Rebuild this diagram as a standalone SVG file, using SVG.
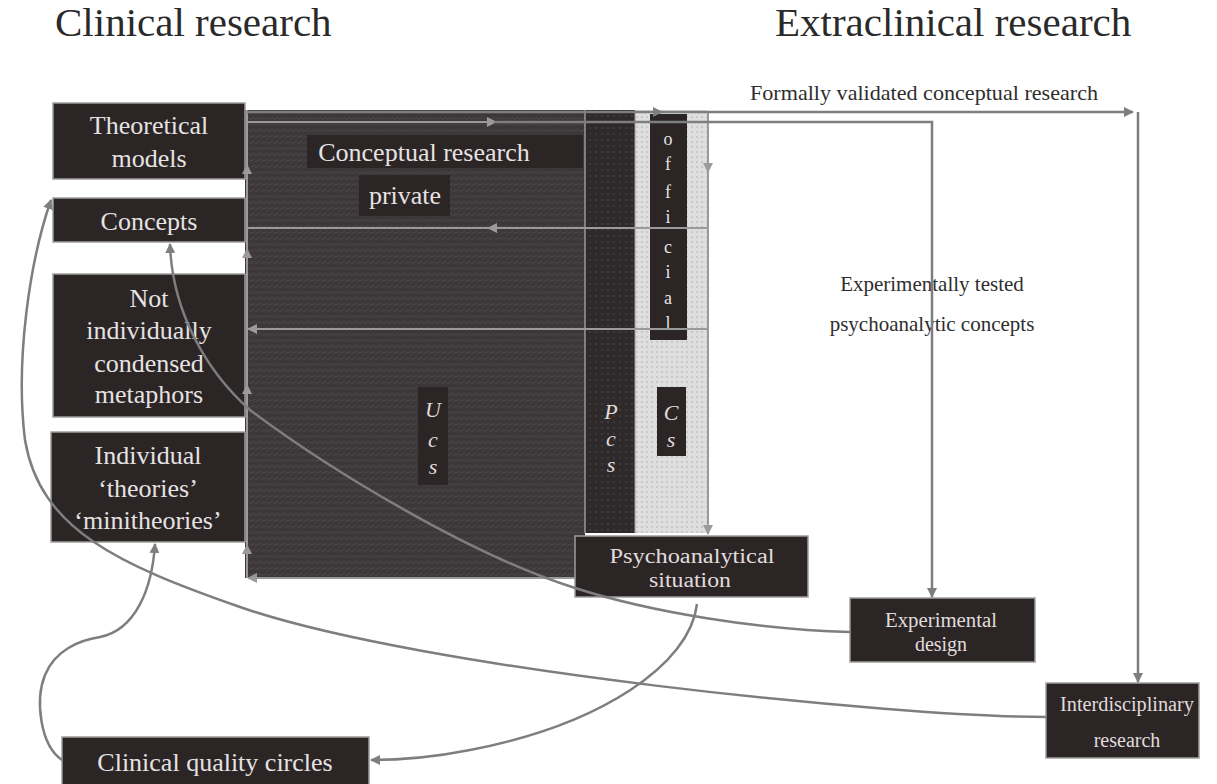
<svg xmlns="http://www.w3.org/2000/svg" width="1217" height="784" viewBox="0 0 1217 784">
<style>
.title{font-family:"Liberation Serif",serif;font-size:41px;fill:#2a2a2a}
.lbl{font-family:"Liberation Serif",serif;font-size:21px;fill:#2e2e2e}
.box{fill:#2b2526;stroke:#a09c9c;stroke-width:1.5}
.bt{font-family:"Liberation Serif",serif;font-size:26px;fill:#e6e2e2;text-anchor:middle}
.st{font-family:"Liberation Serif",serif;font-size:20px;fill:#e0dcdc;text-anchor:middle}
.it{font-family:"Liberation Serif",serif;font-size:22px;font-style:italic;fill:#e0dcdc;text-anchor:middle}
.of{font-family:"Liberation Serif",serif;font-size:18px;fill:#e6e2e2;text-anchor:middle}
.c{fill:none;stroke:#7e7e7e;stroke-width:2.5}
.ci{fill:none;stroke:#9a9a9a;stroke-width:2}
</style>
<defs>
<pattern id="ucs" width="6" height="6" patternUnits="userSpaceOnUse">
<rect width="6" height="6" fill="#3c3738"/>
<path d="M0,5 L3,3 M3,6 L6,4" stroke="#4e494a" stroke-width="1"/>
</pattern>
<pattern id="pcs" width="6" height="6" patternUnits="userSpaceOnUse">
<rect width="6" height="6" fill="#2e2a2b"/>
<circle cx="2" cy="2" r="0.8" fill="#524e4f"/>
</pattern>
<pattern id="cs" width="5" height="5" patternUnits="userSpaceOnUse">
<rect width="5" height="5" fill="#dedede"/>
<circle cx="2" cy="2" r="0.9" fill="#bdbdbd"/>
</pattern>
<marker id="ah" viewBox="0 0 10 10" refX="9" refY="5" markerWidth="4" markerHeight="4" orient="auto" markerUnits="strokeWidth">
<path d="M0,0 L10,5 L0,10 Z" fill="#7e7e7e"/>
</marker>
<marker id="ahi" viewBox="0 0 10 10" refX="9" refY="5" markerWidth="5" markerHeight="5" orient="auto" markerUnits="strokeWidth">
<path d="M0,0 L10,5 L0,10 Z" fill="#9a9a9a"/>
</marker>
</defs>
<rect width="1217" height="784" fill="#ffffff"/>

<text class="title" x="55" y="36">Clinical research</text>
<text class="title" x="775" y="36">Extraclinical research</text>

<g id="central-block">
<rect x="245" y="110" width="340" height="468" fill="url(#ucs)"/>
<rect x="585" y="110" width="50" height="423" fill="url(#pcs)"/>
<rect x="635" y="110" width="72" height="423" fill="url(#cs)"/>
<line x1="585" y1="110" x2="585" y2="533" stroke="#9a9a9a" stroke-width="1.5"/>
<line x1="635" y1="110" x2="635" y2="533" stroke="#9a9a9a" stroke-width="1"/>
<rect x="307" y="135" width="276" height="33" fill="#2b2526"/>
<text class="bt" x="424" y="161" font-size="25">Conceptual research</text>
<rect x="359" y="175" width="91" height="41" fill="#2b2526"/>
<text class="bt" x="405" y="204" font-size="23">private</text>
<rect x="418" y="387" width="30" height="98" fill="#2b2526"/>
<text class="it" x="433" y="417">U</text>
<text class="it" x="433" y="447">c</text>
<text class="it" x="433" y="474">s</text>
<text class="it" x="611" y="419">P</text>
<text class="it" x="611" y="446">c</text>
<text class="it" x="611" y="472">s</text>
<rect x="657" y="387" width="29" height="69" fill="#2b2526"/>
<text class="it" x="671" y="420">C</text>
<text class="it" x="671" y="447">s</text>
<rect x="650" y="114" width="37" height="226" fill="#2b2526"/>
<text class="of" x="668" y="145">o</text>
<text class="of" x="668" y="170">f</text>
<text class="of" x="668" y="198">f</text>
<text class="of" x="668" y="223">i</text>
<text class="of" x="668" y="253">c</text>
<text class="of" x="668" y="278">i</text>
<text class="of" x="668" y="304">a</text>
<text class="of" x="668" y="329">l</text>
</g>

<g id="theoretical-models">
<rect class="box" x="53" y="103" width="192" height="76"/>
<text class="bt" x="149" y="134">Theoretical</text>
<text class="bt" x="149" y="167">models</text>
</g>
<g id="concepts">
<rect class="box" x="53" y="198" width="192" height="44"/>
<text class="bt" x="149" y="230">Concepts</text>
</g>
<g id="metaphors">
<rect class="box" x="53" y="274" width="192" height="143"/>
<text class="bt" x="149" y="307">Not</text>
<text class="bt" x="149" y="339">individually</text>
<text class="bt" x="149" y="372">condensed</text>
<text class="bt" x="149" y="403">metaphors</text>
</g>
<g id="minitheories">
<rect class="box" x="51" y="432" width="194" height="110"/>
<text class="bt" x="148" y="464">Individual</text>
<text class="bt" x="148" y="497">‘theories’</text>
<text class="bt" x="148" y="529">‘minitheories’</text>
</g>
<g id="clinical-quality-circles">
<rect class="box" x="62" y="737" width="307" height="50"/>
<text class="bt" x="215" y="771" font-size="27">Clinical quality circles</text>
</g>
<g id="psychoanalytical-situation">
<rect class="box" x="575" y="536" width="233" height="61"/>
<text class="st" x="692" y="563" textLength="165" lengthAdjust="spacingAndGlyphs">Psychoanalytical</text>
<text class="st" x="690" y="587" textLength="82" lengthAdjust="spacingAndGlyphs">situation</text>
</g>
<g id="experimental-design">
<rect class="box" x="850" y="598" width="185" height="64"/>
<text class="st" x="941" y="627" textLength="112" lengthAdjust="spacingAndGlyphs">Experimental</text>
<text class="st" x="941" y="651">design</text>
</g>
<g id="interdisciplinary-research">
<rect class="box" x="1046" y="683" width="153" height="75"/>
<text class="st" x="1127" y="711" textLength="134" lengthAdjust="spacingAndGlyphs">Interdisciplinary</text>
<text class="st" x="1127" y="747">research</text>
</g>

<g id="labels">
<text class="lbl" x="750" y="100" textLength="348" lengthAdjust="spacingAndGlyphs">Formally validated conceptual research</text>
<text class="lbl" x="932" y="291" text-anchor="middle">Experimentally tested</text>
<text class="lbl" x="932" y="331" text-anchor="middle">psychoanalytic concepts</text>
</g>

<g id="connectors">
<path class="ci" d="M247,578 V545" marker-end="url(#ahi)"/>
<path class="ci" d="M247,545 V385" marker-end="url(#ahi)"/>
<path class="ci" d="M247,385 V249" marker-end="url(#ahi)"/>
<path class="ci" d="M247,249 V165" marker-end="url(#ahi)"/>
<path class="ci" d="M247,165 V110"/>
<path class="ci" d="M708,112 V172" marker-end="url(#ahi)"/>
<path class="ci" d="M708,172 V534" marker-end="url(#ahi)"/>
<path class="ci" d="M708,228 H488" marker-end="url(#ahi)"/>
<path class="ci" d="M490,228 H247"/>
<path class="ci" d="M708,329 H248" marker-end="url(#ahi)"/>
<path class="ci" d="M575,578 H248" marker-end="url(#ahi)"/>
<path class="ci" d="M247,122 H496" marker-end="url(#ahi)"/>
<path class="c" d="M247,112 H662" marker-end="url(#ah)"/>
<path class="c" d="M660,112 H1133" marker-end="url(#ah)"/>
<path class="c" d="M1138,112 V682" marker-end="url(#ah)"/>
<path class="c" d="M494,122 H932 V597" marker-end="url(#ah)"/>
<path class="c" d="M850,632 C760,630 650,612 575,588 C470,555 330,470 250,410 C205,370 172,310 170,244" marker-end="url(#ah)"/>
<path class="c" d="M1046,717 C900,717 420,670 240,607 C120,565 40,530 25,440 C15,360 30,260 51,200" marker-end="url(#ah)"/>
<path class="c" d="M697,604 C690,665 600,725 470,750 C430,758 400,760 371,760" marker-end="url(#ah)"/>
<path class="c" d="M62,760 C40,745 35,700 45,675 C55,650 80,640 100,637 C135,630 152,590 155,544" marker-end="url(#ah)"/>
</g>
</svg>
